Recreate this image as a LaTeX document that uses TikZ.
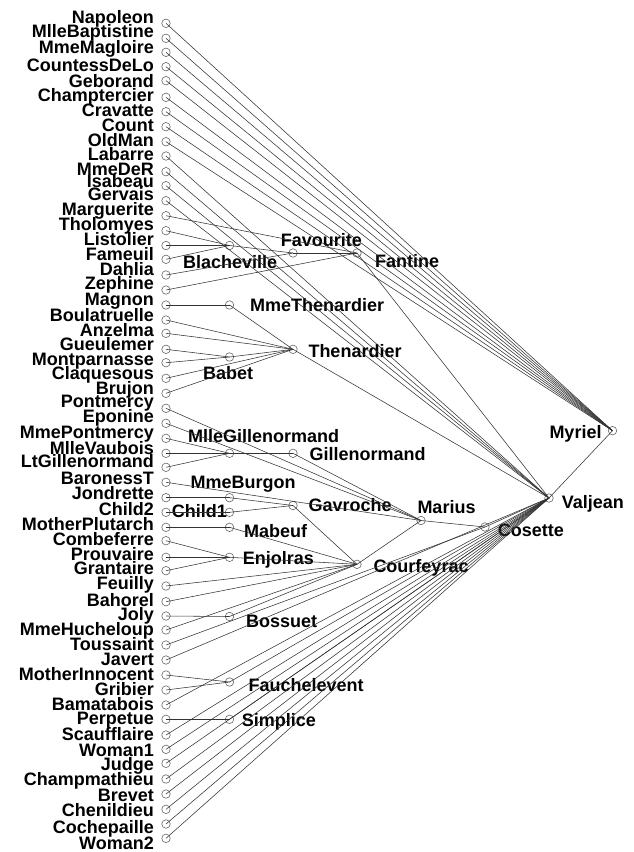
\documentclass[tikz,border=0pt]{standalone}
\usepackage{fontspec}
\setmainfont{Liberation Sans}
\begin{document}
\begin{tikzpicture}[x=1pt,y=-1pt,
  dot/.style={circle, draw=black!60, line width=0.6pt, minimum size=8.5pt, inner sep=0pt},
  lbl/.style={font=\fontsize{18}{18}\selectfont\bfseries, inner sep=0pt, text=black},
  lnk/.style={draw=black!80, line width=0.55pt}]
\useasboundingbox (0,0) rectangle (633,852);
% left column
\foreach \n/\y/\b in {
 Napoleon/23.3/23, MlleBaptistine/38.3/37, MmeMagloire/52.3/53, CountessDeLo/66.7/71,
 Geborand/80.7/87, Champtercier/97.3/101, Cravatte/111.7/116.5, Count/126.7/131.5,
 OldMan/141.7/146.5, Labarre/156/160, MmeDeR/171.7/175, Isabeau/185.7/187,
 Gervais/200.7/200.5, Marguerite/215.7/215.5, Tholomyes/230.7/230.5, Listolier/245.5/245.5,
 Fameuil/259.3/260, Dahlia/275/275, Zephine/290/289.5, Magnon/305/305,
 Boulatruelle/320/321.5, Anzelma/333.3/336.5, Gueulemer/349.3/350, Montparnasse/362.7/365,
 Claquesous/378.3/379, Brujon/393.3/394, Pontmercy/408.3/407.5, Eponine/423.3/422.5,
 MmePontmercy/438.3/438, MlleVaubois/453.3/454, LtGillenormand/467.3/467, BaronessT/482.3/484,
 Jondrette/497.7/499, Child2/512.3/515, MotherPlutarch/527.3/530, Combeferre/540.7/545,
 Prouvaire/557.3/560, Grantaire/570.7/574, Feuilly/586/589, Bahorel/601.7/606,
 Joly/616/620, MmeHucheloup/630/635, Toussaint/645/650, Javert/660/665,
 MotherInnocent/675/680, Gribier/690/695, Bamatabois/705/710, Perpetue/719.3/724,
 Scaufflaire/735/740.5, Woman1/749.3/756, Judge/763.3/770, Champmathieu/779/785,
 Brevet/794/801, Chenildieu/809.3/816.5, Cochepaille/824/833, Woman2/838.3/849}
{
  \node[dot] (\n) at (166,\y) {};
  \node[lbl, anchor=base east] (\n-t) at (154,\b) {\n};
}
% inner nodes
\foreach \n/\x/\y/\lx/\ly in {
 Blacheville/229.5/245.5/183/268.3, Favourite/293/253/280.7/246.7, Fantine/357/253/375/267.7,
 MmeThenardier/229.5/305/250/311, Thenardier/293/349.3/308.3/357, Babet/229.5/357/203/379.3,
 MlleGillenormand/229.5/453.3/188/442.7, Gillenormand/293/453.3/309.3/460.5,
 MmeBurgon/229.5/497.7/190.5/488.5, Child1/229.5/512.3/171.7/517.7, Gavroche/293/505.5/308.3/511.7,
 Mabeuf/229.5/527.3/244/537.3, Enjolras/229.5/557.3/242.7/564, Bossuet/229.5/616.5/246/627.3,
 Fauchelevent/229.5/682/248.3/691.7, Simplice/229.5/719.3/241.7/726.7,
 Courfeyrac/357/564.3/373.3/572.7, Marius/421/520.5/417.3/513.3, Cosette/485/527/497.7/536.7,
 Valjean/549/498/561.7/508.3, Myriel/612.5/430.7/549.3/438.3}
{
  \node[dot] (\n) at (\x,\y) {};
  \node[lbl, anchor=base west] (\n-t) at (\lx,\ly) {\n};
}
% connectors (child -- parent)
\foreach \a/\b in {
 Napoleon/Myriel, MlleBaptistine/Myriel, MmeMagloire/Myriel, CountessDeLo/Myriel,
 Geborand/Myriel, Champtercier/Myriel, Cravatte/Myriel, Count/Myriel, OldMan/Myriel,
 Valjean/Myriel,
 Labarre/Valjean, MmeDeR/Valjean, Isabeau/Valjean, Gervais/Valjean, Fantine/Valjean,
 Thenardier/Valjean, Cosette/Valjean, Javert/Valjean, Fauchelevent/Valjean,
 Bamatabois/Valjean, Simplice/Valjean, Scaufflaire/Valjean, Woman1/Valjean, Judge/Valjean,
 Champmathieu/Valjean, Brevet/Valjean, Chenildieu/Valjean, Cochepaille/Valjean, Woman2/Valjean,
 Marius/Cosette, Toussaint/Cosette,
 Courfeyrac/Marius, Gillenormand/Marius, Pontmercy/Marius, Eponine/Marius, BaronessT/Marius,
 Gavroche/Courfeyrac, Mabeuf/Courfeyrac, Enjolras/Courfeyrac, Feuilly/Courfeyrac,
 Bahorel/Courfeyrac, Bossuet/Courfeyrac, MmeHucheloup/Courfeyrac,
 MmeBurgon/Gavroche, Child1/Gavroche, Jondrette/MmeBurgon, Child2/Child1,
 MotherPlutarch/Mabeuf, Combeferre/Enjolras, Prouvaire/Enjolras, Grantaire/Enjolras,
 Joly/Bossuet, MlleGillenormand/Gillenormand, MmePontmercy/MlleGillenormand,
 MlleVaubois/MlleGillenormand, LtGillenormand/MlleGillenormand,
 MmeThenardier/Thenardier, Babet/Thenardier, Boulatruelle/Thenardier, Anzelma/Thenardier,
 Claquesous/Thenardier, Brujon/Thenardier, Magnon/MmeThenardier,
 Gueulemer/Babet, Montparnasse/Babet,
 Marguerite/Fantine, Favourite/Fantine, Zephine/Fantine,
 Blacheville/Favourite, Dahlia/Favourite,
 Tholomyes/Blacheville, Listolier/Blacheville, Fameuil/Blacheville,
 MotherInnocent/Fauchelevent, Gribier/Fauchelevent, Perpetue/Simplice}
{
  \draw[lnk] (\a.center) -- (\b.center);
}
\end{tikzpicture}
\end{document}
